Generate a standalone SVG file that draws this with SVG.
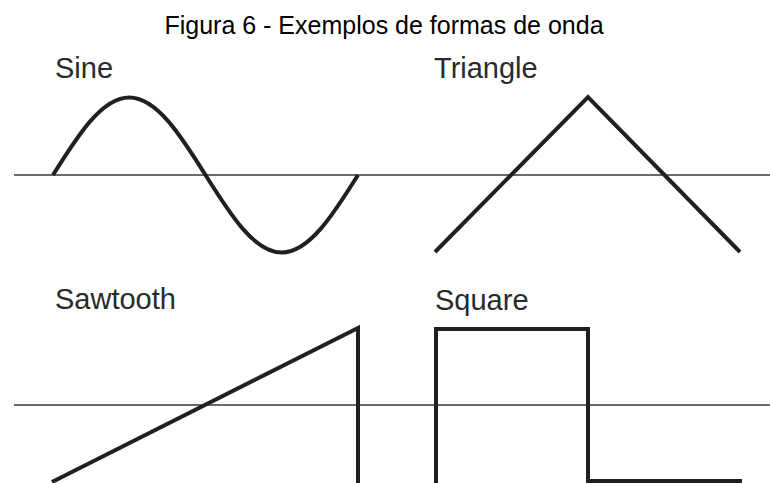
<svg xmlns="http://www.w3.org/2000/svg" width="770" height="483" viewBox="0 0 770 483">
<style>
.axis{stroke:#6a6a6a;stroke-width:2;fill:none}
.wave{stroke:#231f20;stroke-width:4;fill:none;stroke-linejoin:miter;stroke-linecap:butt}
.title{font-family:"Liberation Sans",Arial,sans-serif;font-size:25px;fill:#000}
.label{font-family:"Liberation Sans",Arial,sans-serif;font-size:29px;fill:#2a2a2a}
</style>
<rect width="770" height="483" fill="#fff"/>
<text class="title" x="384" y="34" text-anchor="middle">Figura 6 - Exemplos de formas de onda</text>
<g id="axes">
<line class="axis" x1="14" y1="175" x2="770" y2="175"/>
<line class="axis" x1="14" y1="405" x2="770" y2="405"/>
</g>
<g id="sine">
<text class="label" x="55" y="78">Sine</text>
<path class="wave" d="M53,175 C77.87,135.3 101.78,97.5 129.25,97.5 C156.72,97.5 180.63,135.3 205.5,175 C230.37,214.7 254.28,252.5 281.75,252.5 C309.22,252.5 333.13,214.7 358,175"/>
</g>
<g id="triangle">
<text class="label" x="434" y="78">Triangle</text>
<path class="wave" d="M435,252 L588,97 L740,252"/>
</g>
<g id="sawtooth">
<text class="label" x="55" y="309">Sawtooth</text>
<path class="wave" d="M52,482 L358,328 L358,485"/>
</g>
<g id="square">
<text class="label" x="435" y="310">Square</text>
<path class="wave" d="M436,485 L436,329 L588,329 L588,481 L742,481"/>
</g>
</svg>
